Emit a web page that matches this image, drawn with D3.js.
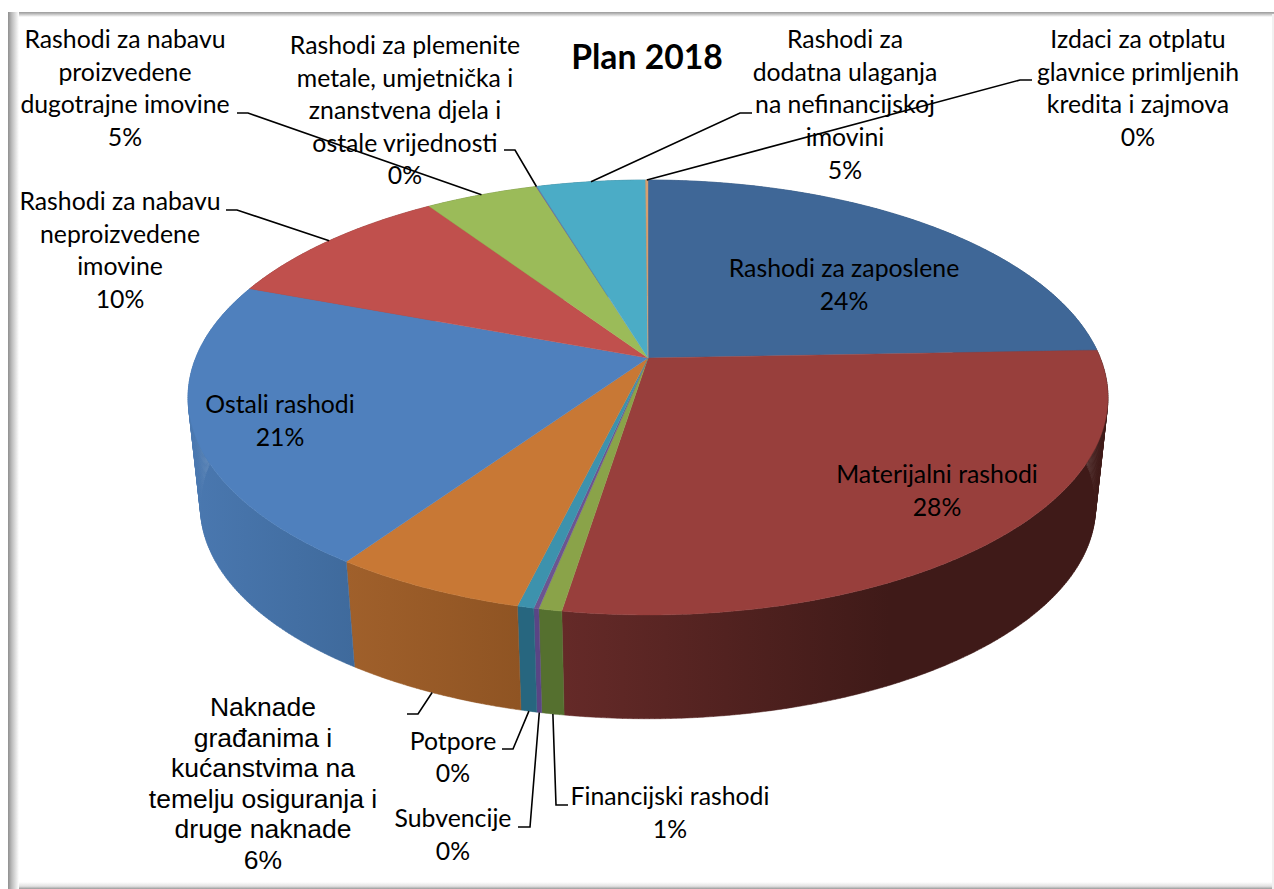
<!DOCTYPE html>
<html>
<head>
<meta charset="utf-8">
<script src="https://cdn.jsdelivr.net/npm/d3@7"></script>
<style>
  html, body { margin: 0; padding: 0; background: #fff; }
  svg { display: block; }
</style>
</head>
<body>
<div id="chart"></div>
<script>
// values, in percent, clockwise from 12 o'clock
var categories = [
    "Rashodi za zaposlene", "Materijalni rashodi", "Financijski rashodi", "Subvencije", "Potpore",
    "Naknade građanima i kućanstvima na temelju osiguranja i druge naknade", "Ostali rashodi",
    "Rashodi za nabavu neproizvedene imovine", "Rashodi za nabavu proizvedene dugotrajne imovine",
    "Rashodi za plemenite metale, umjetnička i znanstvena djela i ostale vrijednosti",
    "Rashodi za dodatna ulaganja na nefinancijskoj imovini",
    "Izdaci za otplatu glavnice primljenih kredita i zajmova"
];
var values = [24.4, 28.1, 0.68, 0.15, 0.49, 5.78, 21.1, 9.9, 4.7, 0.05, 4.55, 0.1];

// how each category name is broken into lines
var labelLines = [
    ["Rashodi za zaposlene"], ["Materijalni rashodi"], ["Financijski rashodi"], ["Subvencije"], ["Potpore"],
    ["Naknade", "građanima i", "kućanstvima na", "temelju osiguranja i", "druge naknade"],
    ["Ostali rashodi"],
    ["Rashodi za nabavu", "neproizvedene", "imovine"],
    ["Rashodi za nabavu", "proizvedene", "dugotrajne imovine"],
    ["Rashodi za plemenite", "metale, umjetnička i", "znanstvena djela i", "ostale vrijednosti"],
    ["Rashodi za", "dodatna ulaganja", "na nefinancijskoj", "imovini"],
    ["Izdaci za otplatu", "glavnice primljenih", "kredita i zajmova"]
];

// colours
var topColors = ["#3f6797", "#983f3c", "#8aa349", "#6c5590", "#3d92ad", "#c87835",
                 "#4f80bd", "#c0504d", "#9bbb59", "#8064a2", "#4bacc6", "#d8a070"];
var sideLeft  = ["#325278", "#652a28", "#55702f", "#5a4585", "#27667f", "#a0602b",
                 "#4a78b0", "#8a3a38", "#6e8640", "#5c4874", "#36798d", "#b06a30"];
var sideRight = ["#325278", "#3f1a18", "#55702f", "#5a4585", "#27667f", "#8f5423",
                 "#3f6a9c", "#8a3a38", "#6e8640", "#5c4874", "#36798d", "#b06a30"];

// label layout: centre x, first baseline, line height, and the elbow + end of the leader
var labelPos = [
    { x: 844, y: 277, dy: 33 },
    { x: 937, y: 483, dy: 33 },
    { x: 670, y: 805, dy: 33, elbow: [556, 805], end: [568, 805] },
    { x: 453, y: 827, dy: 33, elbow: [530, 827], end: [518, 827] },
    { x: 453, y: 750, dy: 32, elbow: [513, 749], end: [502, 749] },
    { x: 263, y: 716, dy: 30.6, arial: true, elbow: [418, 714], end: [407, 714] },
    { x: 280, y: 413, dy: 33 },
    { x: 120, y: 210, dy: 32.7, elbow: [237, 210], end: [226, 210] },
    { x: 125, y: 48, dy: 32.7, elbow: [248, 113], end: [237, 113] },
    { x: 405, y: 54, dy: 32.5, elbow: [515, 150], end: [504, 150] },
    { x: 845, y: 48, dy: 32.7, elbow: [740, 113], end: [752, 113] },
    { x: 1138, y: 48, dy: 32.7, elbow: [1020, 80], end: [1032, 80] }
];

var W = 1274, H = 889;

var svg = d3.select("#chart").append("svg")
    .attr("width", W)
    .attr("height", H);
var defs = svg.append("defs");

function edgeGradient(id, x1, y1, x2, y2, stops) {
    var g = defs.append("linearGradient").attr("id", id)
        .attr("x1", x1).attr("y1", y1).attr("x2", x2).attr("y2", y2);
    stops.forEach(function (s) {
        g.append("stop").attr("offset", s[0]).attr("stop-color", s[1]);
    });
}

// the soft grey frame
edgeGradient("frameLeft", 0, 0, 1, 0, [[0, "#8f8f8f"], [0.35, "#bdbdbd"], [1, "#ffffff"]]);
edgeGradient("frameBottom", 0, 0, 0, 1, [[0, "#ffffff"], [0.6, "#e2e2e2"], [1, "#9a9a9a"]]);
edgeGradient("frameTop", 0, 0, 0, 1, [[0, "#9a9a9a"], [0.3, "#b5b5b5"], [1, "#ffffff"]]);
svg.append("rect").attr("x", 8).attr("y", 12).attr("width", W - 8).attr("height", 5).attr("fill", "url(#frameTop)");
svg.append("rect").attr("x", 8).attr("y", 882).attr("width", W - 8).attr("height", 7).attr("fill", "url(#frameBottom)");
svg.append("rect").attr("x", 8).attr("y", 12).attr("width", 11).attr("height", H - 12).attr("fill", "url(#frameLeft)");
svg.append("rect").attr("x", 1272).attr("y", 14).attr("width", 2).attr("height", H - 14).attr("fill", "#f1f1f1");

// perspective of the disc: top surface of the pie
var cx = 648, cy = 358, radX = 452.3, radY = 210.3, persp = -0.1816;
// the bottom rim shrinks towards a vanishing point below the chart
var vanishY = 4460, rimScale = 0.973;

function topPoint(a) {
    var u = Math.sin(a), v = -Math.cos(a), w = 1 + persp * v;
    return [cx + radX * u / w, cy + radY * v / w];
}
function rimPoint(a) {
    var p = topPoint(a);
    return [cx + (p[0] - cx) * rimScale, vanishY - (vanishY - p[1]) * rimScale];
}
function arcAngles(a0, a1) {
    var n = Math.max(2, Math.ceil((a1 - a0) / 0.01));
    return d3.range(n + 1).map(function (i) { return a0 + (a1 - a0) * i / n; });
}

var pie = d3.pie().sort(null).value(function (d) { return d; });
var arcs = pie(values);
var line = d3.line();
var pct = d3.format(".0%");
var total = d3.sum(values);

// outer walls first, then the top surface hides whatever is behind it
// each wall is a run of small quads, so the tangent edge at left and right is filled too
var sides = svg.append("g");
arcs.forEach(function (d, i) {
    var angles = arcAngles(d.startAngle, d.endAngle);
    var quads = d3.pairs(angles).map(function (p) {
        return line([topPoint(p[0]), topPoint(p[1]), rimPoint(p[1]), rimPoint(p[0])]) + "Z";
    });
    var xs = angles.map(function (a) { return topPoint(a)[0]; })
        .concat(angles.map(function (a) { return rimPoint(a)[0]; }));
    var id = "side" + i;
    var stops = i === 1
        ? [[0, sideLeft[i]], [0.6, sideRight[i]], [1, sideRight[i]]]
        : [[0, sideLeft[i]], [1, sideRight[i]]];
    var g = defs.append("linearGradient").attr("id", id)
        .attr("gradientUnits", "userSpaceOnUse")
        .attr("x1", d3.min(xs)).attr("x2", d3.max(xs)).attr("y1", 0).attr("y2", 0);
    stops.forEach(function (s) {
        g.append("stop").attr("offset", s[0]).attr("stop-color", s[1]);
    });
    sides.append("path")
        .attr("d", quads.join(""))
        .attr("fill", "url(#" + id + ")")
        .attr("stroke", "url(#" + id + ")")
        .attr("stroke-width", 0.5);
});

svg.append("g").selectAll("path")
    .data(arcs)
    .enter().append("path")
    .attr("d", function (d) {
        return line([[cx, cy]].concat(arcAngles(d.startAngle, d.endAngle).map(topPoint))) + "Z";
    })
    .attr("fill", function (d, i) { return topColors[i]; })
    .attr("stroke", function (d, i) { return topColors[i]; })
    .attr("stroke-width", function (d) { return d.value < 0.1 ? 0 : 0.4; });

// leader lines, from the middle of each slice's edge
var leaders = svg.append("g");
arcs.forEach(function (d, i) {
    var pos = labelPos[i];
    if (!pos.elbow) return;
    var mid = (d.startAngle + d.endAngle) / 2;
    var front = Math.cos(mid) < -0.5;
    var start = front ? rimPoint(mid) : topPoint(mid);
    leaders.append("path")
        .attr("d", line([start, pos.elbow, pos.end]))
        .attr("fill", "none")
        .attr("stroke", "#000")
        .attr("stroke-width", 1.6);
});

// text
var labels = svg.append("g").attr("text-anchor", "middle").attr("fill", "#000");
arcs.forEach(function (d, i) {
    var pos = labelPos[i];
    var lines = labelLines[i].concat([pct(values[i] / total)]);
    var t = labels.append("text")
        .attr("font-family", pos.arial ? "'Liberation Sans', Arial, sans-serif" : "Lato, sans-serif")
        .attr("font-size", pos.arial ? 26.5 : 24.8);
    lines.forEach(function (s, k) {
        t.append("tspan").attr("x", pos.x).attr("y", pos.y + k * pos.dy).text(s);
    });
});

svg.append("text")
    .attr("x", 647).attr("y", 69)
    .attr("text-anchor", "middle")
    .attr("font-family", "Lato, sans-serif")
    .attr("font-weight", "bold")
    .attr("font-size", 33.7)
    .attr("fill", "#000")
    .text("Plan 2018");
</script>
</body>
</html>
